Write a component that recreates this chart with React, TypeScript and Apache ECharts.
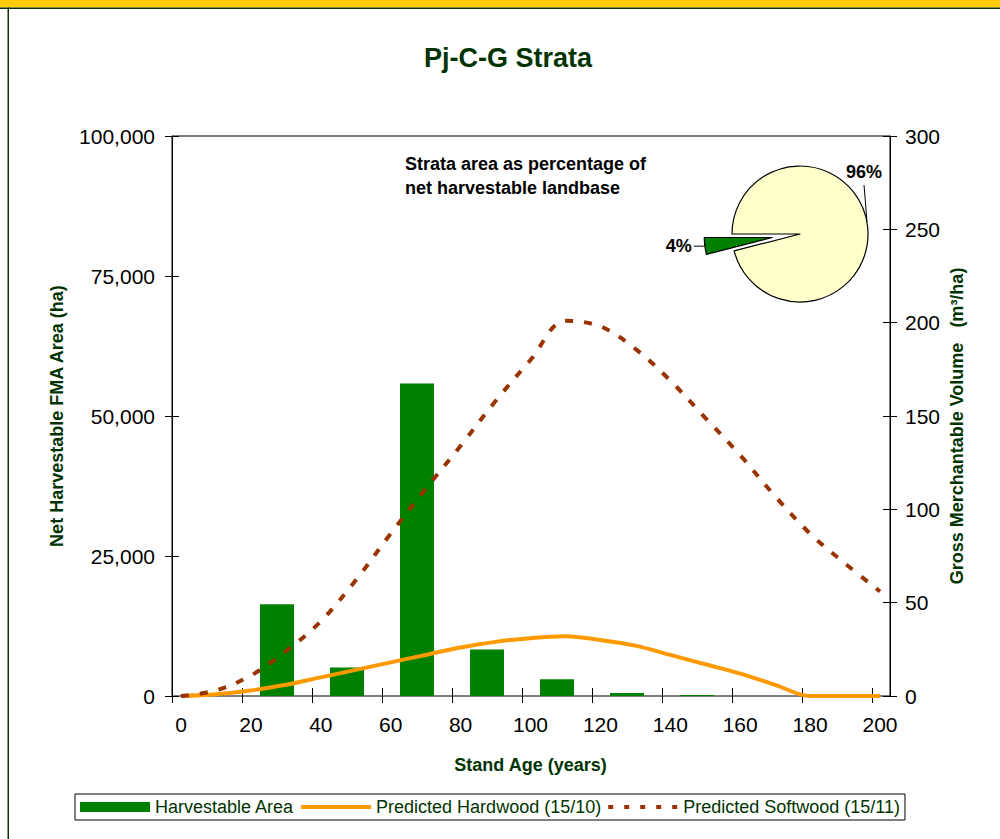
import React, { useEffect, useRef } from 'react';
import * as echarts from 'echarts';

const FONT = '"Liberation Sans", Arial, Helvetica, sans-serif';

const AGE_CLASSES = ['0-20', '20-40', '40-60', '60-80', '80-100', '100-120', '120-140', '140-160', '160-180', '180-200'];
const HARVESTABLE_AREA = [400, 16400, 5100, 55800, 8300, 3000, 550, 200, 0, 0];

const AGES = ['0', '10', '20', '30', '40', '50', '60', '70', '80', '90', '100', '110', '120', '130', '140', '150', '160', '170', '180', '190', '200'];
const HARDWOOD = [0, 1, 3, 6, 10, 14, 18, 22, 26, 29, 31, 32, 30, 27, 22, 17, 12, 6, 0, 0, 0];
const SOFTWOOD = [0, 3, 11, 24, 40, 62, 87, 111, 134, 158, 180, 201, 198, 186, 169, 149, 129, 107, 87, 71, 56];

const PIE_NAMES = ['Pj-C-G', 'Other strata'];
const PIE_VALUES = [4, 96];
const PIE_COLORS = ['#008000', '#FFFFCC'];

const SERIES_NAMES = ['Harvestable Area', 'Predicted Hardwood (15/10)', 'Predicted Softwood (15/11)'];

export default function App() {
  const ref = useRef<HTMLDivElement>(null);

  useEffect(() => {
    if (!ref.current) return;
    const chart = echarts.init(ref.current, undefined, { renderer: 'svg' });

    const tickStyle = { color: '#000', width: 1 };

    const option: any = {
      animation: false,
      textStyle: { fontFamily: FONT },
      title: {
        text: 'Pj-C-G Strata',
        left: 424,
        top: 44,
        padding: 0,
        textStyle: { fontSize: 27, fontWeight: 'bold', color: '#003300', fontFamily: FONT },
      },
      legend: {
        left: 75,
        top: 794,
        orient: 'horizontal',
        padding: [4, 5, 4, 5],
        borderColor: '#000',
        borderWidth: 1,
        itemGap: 5,
        itemWidth: 70,
        itemHeight: 10,
        selectedMode: false,
        textStyle: { fontSize: 18, color: '#003300', fontFamily: FONT },
        data: [
          { name: SERIES_NAMES[0], icon: 'rect' },
          { name: SERIES_NAMES[1], itemStyle: { opacity: 0 }, lineStyle: { width: 4, color: '#FF9900' } },
          { name: SERIES_NAMES[2], itemStyle: { opacity: 0 }, lineStyle: { width: 4, color: '#993300', type: [5, 11] } },
        ],
      },
      grid: [
        { left: 172, top: 136, width: 718, height: 560, show: true, borderColor: '#000', borderWidth: 1, backgroundColor: 'transparent' },
        { left: 172, top: 136, width: 700, height: 560 },
        { left: 181, top: 136, width: 699, height: 560 },
      ],
      xAxis: [
        { gridIndex: 0, type: 'value', show: false, min: 0, max: 1 },
        {
          gridIndex: 1, type: 'category', data: AGE_CLASSES, position: 'bottom',
          axisLine: { show: false },
          axisTick: { show: true, interval: 0, length: 7, lineStyle: tickStyle },
          axisLabel: { show: false },
        },
        {
          gridIndex: 1, type: 'category', data: AGE_CLASSES, position: 'bottom',
          axisLine: { show: false },
          axisTick: { show: true, inside: true, interval: 0, length: 8, lineStyle: tickStyle },
          axisLabel: { show: false },
        },
        {
          gridIndex: 2, type: 'category', data: AGES, boundaryGap: false, position: 'bottom',
          axisLine: { show: false },
          axisTick: { show: false },
          axisLabel: { interval: 1, fontSize: 21, color: '#000', margin: 18, fontFamily: FONT },
          name: 'Stand Age (years)',
          nameLocation: 'middle',
          nameGap: 60,
          nameTextStyle: { fontSize: 18, fontWeight: 'bold', color: '#003300', fontFamily: FONT },
        },
      ],
      yAxis: [
        {
          gridIndex: 0, type: 'value', position: 'left', min: 0, max: 100000, interval: 25000,
          axisLine: { show: true, lineStyle: tickStyle },
          axisTick: { show: true, length: 7, lineStyle: tickStyle },
          splitLine: { show: false },
          axisLabel: {
            fontSize: 21, color: '#000', margin: 17, fontFamily: FONT,
            formatter: (v: number) => v.toLocaleString('en-US'),
          },
        },
        {
          gridIndex: 0, type: 'value', position: 'right', min: 0, max: 300, interval: 50,
          axisLine: { show: true, lineStyle: tickStyle },
          axisTick: { show: true, length: 7, lineStyle: tickStyle },
          splitLine: { show: false },
          axisLabel: { fontSize: 21, color: '#000', margin: 15, fontFamily: FONT },
        },
        {
          gridIndex: 0, type: 'value', position: 'left', min: 0, max: 100000, interval: 25000,
          axisLine: { show: false },
          axisTick: { show: true, inside: true, length: 7, lineStyle: tickStyle },
          splitLine: { show: false },
          axisLabel: { show: false },
        },
        {
          gridIndex: 0, type: 'value', position: 'right', min: 0, max: 300, interval: 50,
          axisLine: { show: false },
          axisTick: { show: true, inside: true, length: 7, lineStyle: tickStyle },
          splitLine: { show: false },
          axisLabel: { show: false },
        },
        { gridIndex: 1, type: 'value', min: 0, max: 100000, show: false, splitLine: { show: false } },
        { gridIndex: 2, type: 'value', min: 0, max: 300, show: false, splitLine: { show: false } },
      ],
      series: [
        {
          type: 'bar',
          name: SERIES_NAMES[0],
          xAxisIndex: 1,
          yAxisIndex: 4,
          data: HARVESTABLE_AREA,
          barWidth: 34,
          itemStyle: { color: '#008000' },
          emphasis: { disabled: true },
          z: 2,
        },
        {
          type: 'line',
          name: SERIES_NAMES[1],
          xAxisIndex: 3,
          yAxisIndex: 5,
          data: HARDWOOD,
          smooth: 0.35,
          symbol: 'none',
          lineStyle: { color: '#FF9900', width: 4 },
          itemStyle: { color: '#FF9900' },
          emphasis: { disabled: true },
          z: 3,
        },
        {
          type: 'line',
          name: SERIES_NAMES[2],
          xAxisIndex: 3,
          yAxisIndex: 5,
          data: SOFTWOOD,
          smooth: 0.35,
          symbol: 'none',
          lineStyle: { color: '#993300', width: 4, type: [8, 11] },
          itemStyle: { color: '#993300' },
          emphasis: { disabled: true },
          z: 3,
        },
        {
          type: 'pie',
          name: 'Strata area',
          center: [800, 234],
          radius: 68,
          startAngle: 194.4,
          clockwise: true,
          selectedMode: 'single',
          selectedOffset: 28,
          avoidLabelOverlap: false,
          data: PIE_NAMES.map((n, i) => ({
            name: n,
            value: PIE_VALUES[i],
            selected: i === 0,
            itemStyle: { color: PIE_COLORS[i] },
          })),
          itemStyle: { borderColor: '#000', borderWidth: 1.2 },
          label: {
            show: true,
            position: 'outside',
            formatter: '{c}%',
            fontSize: 18,
            fontWeight: 'bold',
            color: '#000',
            fontFamily: FONT,
            distanceToLabelLine: 2,
          },
          labelLine: { show: true, length: 1, length2: 10, lineStyle: { color: '#000', width: 1 } },
          labelLayout: (p: any) => {
            if (p.dataIndex === 0) return undefined;
            return {
              x: 864, y: 172, align: 'center', verticalAlign: 'middle',
              labelLinePoints: [[864, 185], [865.5, 203], [867, 222]],
            };
          },
          emphasis: { disabled: true },
          z: 5,
        },
      ],
      graphic: [
        { type: 'rect', silent: true, shape: { x: 0, y: 0, width: 1000, height: 7.5 }, style: { fill: '#FFCC00' } },
        { type: 'rect', silent: true, shape: { x: 0, y: 7.5, width: 1000, height: 1.5 }, style: { fill: '#0F3300' } },
        { type: 'rect', silent: true, shape: { x: 7.5, y: 7.5, width: 1.5, height: 832 }, style: { fill: '#0F3300' } },
        {
          type: 'text', silent: true, x: 405, y: 152,
          style: {
            text: 'Strata area as percentage of\nnet harvestable landbase',
            font: `bold 18px ${FONT}`,
            fill: '#000',
            lineHeight: 24,
            textAlign: 'left',
            textVerticalAlign: 'top',
          },
        },
        {
          type: 'text', silent: true, x: 57, y: 416, rotation: Math.PI / 2,
          style: {
            text: 'Net Harvestable FMA Area (ha)',
            font: `bold 18px ${FONT}`,
            fill: '#003300',
            textAlign: 'center',
            textVerticalAlign: 'middle',
          },
        },
        {
          type: 'text', silent: true, x: 957, y: 426, rotation: Math.PI / 2,
          style: {
            text: 'Gross Merchantable Volume   (m³/ha)',
            font: `bold 18px ${FONT}`,
            fill: '#003300',
            textAlign: 'center',
            textVerticalAlign: 'middle',
          },
        },
      ],
    };

    chart.setOption(option);
    return () => chart.dispose();
  }, []);

  return (
    <div
      ref={ref}
      style={{ position: 'fixed', left: 0, top: 0, width: 1000, height: 839, background: '#fff' }}
    />
  );
}
